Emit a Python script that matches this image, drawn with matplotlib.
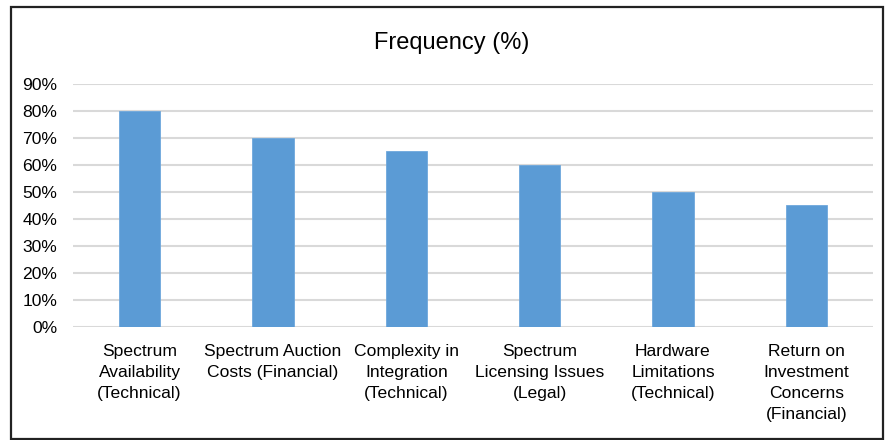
import matplotlib
matplotlib.use("Agg")
import matplotlib.pyplot as plt
from matplotlib.patches import Rectangle
from matplotlib.ticker import PercentFormatter

categories = ['Spectrum\nAvailability\n(Technical)',
              'Spectrum Auction\nCosts (Financial)',
              'Complexity in\nIntegration\n(Technical)',
              'Spectrum\nLicensing Issues\n(Legal)',
              'Hardware\nLimitations\n(Technical)',
              'Return on\nInvestment\nConcerns\n(Financial)']
frequency = [0.80, 0.70, 0.65, 0.60, 0.50, 0.45]
y_ticks = [0.0, 0.1, 0.2, 0.3, 0.4, 0.5, 0.6, 0.7, 0.8, 0.9]

plt.rcParams['font.family'] = ['Liberation Sans', 'DejaVu Sans']

fig = plt.figure(figsize=(8.93, 4.40), dpi=100)
ax = fig.add_axes([73 / 893, 1 - 327 / 440, 800 / 893, 243 / 440])

x = range(len(categories))
ax.bar(x, frequency, width=0.31, color='#5B9BD5', edgecolor='#6FA8DC', linewidth=0.6, zorder=3)

ax.set_xlim(-0.5, len(categories) - 0.5)
ax.set_ylim(0, 0.9)
ax.set_yticks(y_ticks)
ax.yaxis.set_major_formatter(PercentFormatter(1.0, decimals=0))
ax.set_xticks(list(x))
ax.set_xticklabels(categories, fontsize=12.6, linespacing=1.5, va='top')
ax.tick_params(axis='y', labelsize=12.6, length=0, pad=11.5)
ax.tick_params(axis='x', length=0, pad=12)
ax.grid(axis='y', color='#D9D9D9', linewidth=1.5, zorder=0)
for s in ax.spines.values():
    s.set_visible(False)

fig.text(452 / 893, 1 - 43 / 440, 'Frequency (%)', fontsize=17, ha='center', va='center')

# outer frame
fig.patches.append(Rectangle((11 / 893, 1 / 440), 872 / 893, 432 / 440, transform=fig.transFigure,
                             fill=False, edgecolor='#222222', linewidth=1.6))

fig.savefig('out.png', dpi=100)
